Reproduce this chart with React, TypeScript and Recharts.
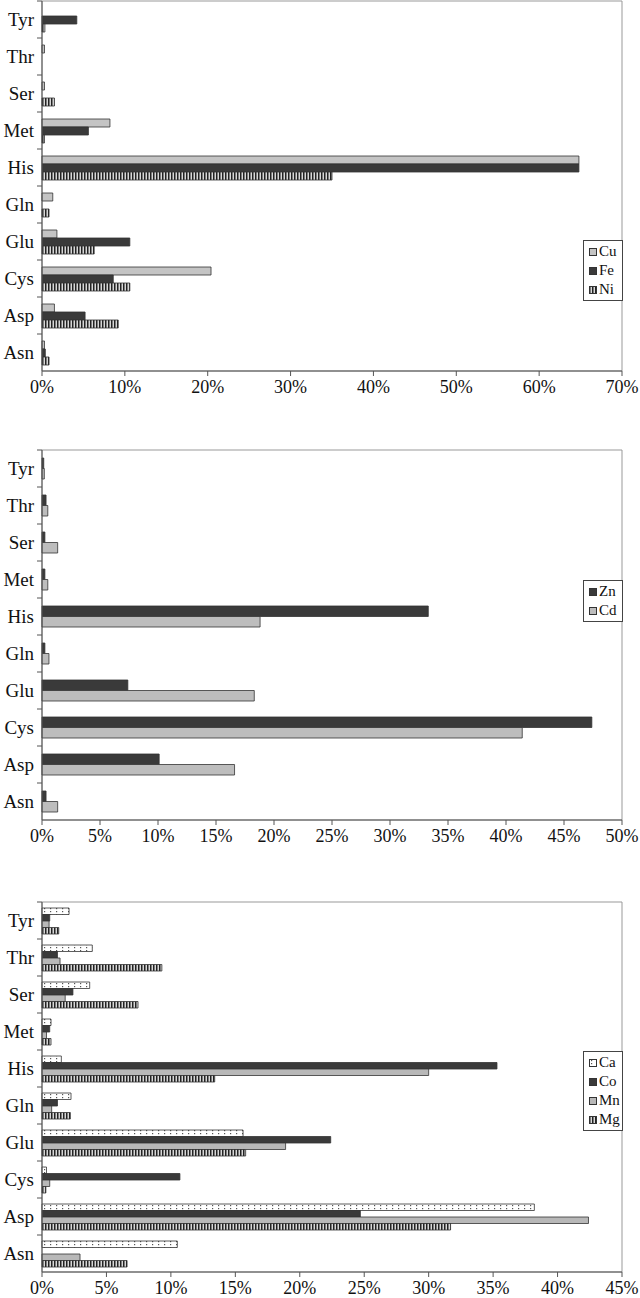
import { BarChart, Bar, XAxis, YAxis, ReferenceArea, Legend } from 'recharts'

// categories, top to bottom as drawn
const AMINO_ACIDS = ['Tyr', 'Thr', 'Ser', 'Met', 'His', 'Gln', 'Glu', 'Cys', 'Asp', 'Asn']

// panel 1 (%)
const CU = [0, 0.3, 0.3, 8.2, 64.8, 1.3, 1.8, 20.4, 1.5, 0.3]
const FE = [4.2, 0, 0, 5.6, 64.8, 0, 10.6, 8.6, 5.2, 0.4]
const NI = [0.35, 0, 1.5, 0.3, 35.0, 0.85, 6.3, 10.6, 9.2, 0.85]

// panel 2 (%)
const ZN = [0.15, 0.35, 0.25, 0.25, 33.3, 0.25, 7.4, 47.4, 10.1, 0.35]
const CD = [0.2, 0.5, 1.35, 0.5, 18.8, 0.6, 18.3, 41.4, 16.6, 1.35]

// panel 3 (%)
const CA = [2.1, 3.9, 3.7, 0.7, 1.5, 2.25, 15.6, 0.35, 38.2, 10.5]
const CO = [0.6, 1.2, 2.4, 0.6, 35.3, 1.2, 22.4, 10.7, 24.7, 0]
const MN = [0.55, 1.4, 1.8, 0.35, 30.0, 0.75, 18.9, 0.6, 42.4, 2.95]
const MG = [1.3, 9.3, 7.45, 0.7, 13.4, 2.2, 15.8, 0.3, 31.7, 6.6]

const TICKS_1 = [0, 10, 20, 30, 40, 50, 60, 70]
const TICKS_2 = [0, 5, 10, 15, 20, 25, 30, 35, 40, 45, 50]
const TICKS_3 = [0, 5, 10, 15, 20, 25, 30, 35, 40, 45]

const FONT = '"Liberation Serif", "Times New Roman", serif'
const W = 640
const PLOT_LEFT = 42
const PLOT_RIGHT = 622
const PLOT_H = 370
const TOP_PAD = 10
const X_AXIS_H = 50
const TICK_SIZE = 5
const TICK_MARGIN = 3
const BAND = PLOT_H / AMINO_ACIDS.length

type Series = { key: string; name: string; fill: string }

const build = (cols: Record<string, number[]>) =>
  AMINO_ACIDS.map((aa, i) => {
    const row: Record<string, string | number> = { aa }
    Object.keys(cols).forEach(k => { row[k] = cols[k][i] })
    return row
  })

const CategoryTick = ({ x, y, payload }: any) => {
  const lx = x + TICK_MARGIN
  return (
    <g>
      <text x={x} y={y} dy="0.35em" textAnchor="end" fontFamily={FONT} fontSize={19} fill="#111">
        {payload.value}
      </text>
      <line x1={lx} x2={lx + TICK_SIZE} y1={y - BAND / 2} y2={y - BAND / 2} stroke="#555" />
    </g>
  )
}

const BoxLegend = ({ series }: { series: Series[] }) => (
  <div
    style={{
      width: 40, boxSizing: 'border-box', border: '1px solid #444', background: '#fff',
      padding: '1px 0 1px 5px', fontFamily: FONT, fontSize: 15, color: '#111',
    }}
  >
    {series.map(s => (
      <div key={s.key} style={{ display: 'flex', alignItems: 'center', height: 19 }}>
        <svg width={8} height={8} style={{ marginRight: 2 }}>
          <rect x={0.5} y={0.5} width={7} height={7} fill={s.fill} stroke="#333" />
        </svg>
        <span>{s.name}</span>
      </div>
    ))}
  </div>
)

interface PanelProps {
  id: string
  plotTop: number
  legendTop: number
  data: Record<string, string | number>[]
  series: Series[]
  max: number
  ticks: number[]
  barSize: number
}

function Panel({ id, plotTop, legendTop, data, series, max, ticks, barSize }: PanelProps) {
  const top = plotTop - TOP_PAD
  const height = TOP_PAD + PLOT_H + X_AXIS_H
  return (
    <div style={{ position: 'absolute', left: 0, top }}>
      <BarChart
        width={W}
        height={height}
        data={data}
        layout="vertical"
        barGap={0}
        margin={{ top: TOP_PAD, right: W - PLOT_RIGHT, bottom: 0, left: 0 }}
      >
        <defs>
          <pattern id={`stripes-${id}`} width={3} height={4} patternUnits="userSpaceOnUse">
            <rect width={3} height={4} fill="#d8d8d8" />
            <rect width={1.5} height={4} fill="#222" />
          </pattern>
          <pattern id={`dots-${id}`} width={6} height={3} patternUnits="userSpaceOnUse">
            <rect width={6} height={3} fill="#fff" />
            <rect x={2} y={1} width={1.2} height={1.2} fill="#555" />
          </pattern>
        </defs>
        <ReferenceArea x1={0} x2={max} fill="none" stroke="#999" strokeWidth={1} ifOverflow="visible" />
        <XAxis
          type="number"
          domain={[0, max]}
          ticks={ticks}
          interval={0}
          tickFormatter={(v) => `${v}%`}
          height={X_AXIS_H}
          stroke="#555"
          tickSize={TICK_SIZE}
          tickMargin={4}
          tick={{ fill: '#111', fontSize: 18, fontFamily: FONT }}
        />
        <YAxis
          type="category"
          dataKey="aa"
          width={PLOT_LEFT}
          stroke="#555"
          tickLine={false}
          tickSize={TICK_SIZE}
          tickMargin={TICK_MARGIN}
          interval={0}
          tick={<CategoryTick />}
        />
        {series.map(s => (
          <Bar
            key={s.key}
            dataKey={s.key}
            name={s.name}
            fill={s.fill}
            stroke="#333"
            strokeWidth={0.8}
            barSize={barSize}
            isAnimationActive={false}
          />
        ))}
        <Legend
          layout="vertical"
          align="center"
          verticalAlign="middle"
          wrapperStyle={{ position: 'absolute', left: 583, top: legendTop - top, width: 'auto' }}
          content={() => <BoxLegend series={series} />}
        />
      </BarChart>
    </div>
  )
}

export default function App() {
  const data1 = build({ cu: CU, fe: FE, ni: NI })
  const data2 = build({ zn: ZN, cd: CD })
  const data3 = build({ ca: CA, co: CO, mn: MN, mg: MG })

  return (
    <div style={{ position: 'absolute', left: 0, top: 0, width: W, height: 1298, background: '#fff', overflow: 'hidden' }}>
      <Panel
        id="p1"
        plotTop={1}
        legendTop={240}
        data={data1}
        max={70}
        ticks={TICKS_1}
        barSize={8}
        series={[
          { key: 'cu', name: 'Cu', fill: '#c4c4c4' },
          { key: 'fe', name: 'Fe', fill: '#3a3a3a' },
          { key: 'ni', name: 'Ni', fill: 'url(#stripes-p1)' },
        ]}
      />
      <Panel
        id="p2"
        plotTop={450}
        legendTop={580}
        data={data2}
        max={50}
        ticks={TICKS_2}
        barSize={10.5}
        series={[
          { key: 'zn', name: 'Zn', fill: '#3a3a3a' },
          { key: 'cd', name: 'Cd', fill: '#bdbdbd' },
        ]}
      />
      <Panel
        id="p3"
        plotTop={902}
        legendTop={1051}
        data={data3}
        max={45}
        ticks={TICKS_3}
        barSize={6.5}
        series={[
          { key: 'ca', name: 'Ca', fill: 'url(#dots-p3)' },
          { key: 'co', name: 'Co', fill: '#3a3a3a' },
          { key: 'mn', name: 'Mn', fill: '#b8b8b8' },
          { key: 'mg', name: 'Mg', fill: 'url(#stripes-p3)' },
        ]}
      />
    </div>
  )
}
